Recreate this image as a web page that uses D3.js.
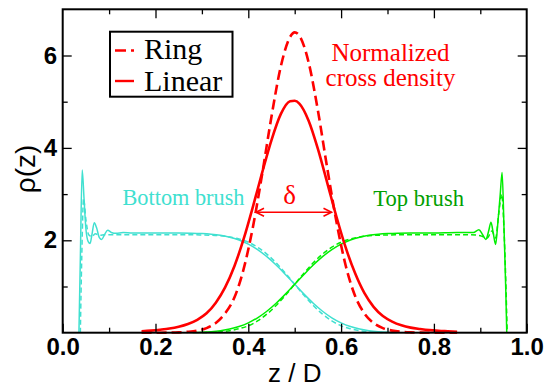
<!DOCTYPE html>
<html><head><meta charset="utf-8">
<script src="https://cdn.jsdelivr.net/npm/d3@7"></script>
<style>
body{margin:0;background:#fff}
svg text{font-family:"Liberation Serif"}
svg text.sans{font-family:"Liberation Sans"}
</style></head>
<body><svg id="c" width="545" height="387"></svg>
<script>
// ---- data ----
const xTicksMajor = [0, 0.2, 0.4, 0.6, 0.8, 1.0];
const xTicksMinor = [0.1, 0.3, 0.5, 0.7, 0.9];
const yTicksMajor = [2, 4, 6];
const yTicksMinor = [1, 3, 5];

const zCross = [0.17,0.19,0.21,0.23,0.25,0.27,0.29,0.31,0.33,0.35,0.37,0.39,0.41,0.43,0.45,0.47,0.49,0.50,0.51,0.53,0.55,0.57,0.59,0.61,0.63,0.65,0.67,0.69,0.71,0.73,0.75,0.77,0.79,0.81,0.83,0.85];
const crossLinear = [0.03,0.045,0.065,0.09,0.13,0.19,0.28,0.42,0.65,0.98,1.44,2.03,2.73,3.47,4.17,4.73,5.01,5.02,4.96,4.59,3.98,3.25,2.51,1.84,1.29,0.86,0.56,0.36,0.24,0.16,0.11,0.08,0.055,0.04,0.03,0.02];
const crossRing = [0,0,0,0.002,0.008,0.02,0.045,0.10,0.21,0.42,0.76,1.38,2.29,3.44,4.68,5.76,6.40,6.50,6.43,5.85,4.81,3.57,2.40,1.45,0.80,0.42,0.21,0.10,0.045,0.02,0.008,0.002,0,0,0,0];

const zBottomLinear = [0.035,0.038,0.042,0.046,0.050,0.055,0.059,0.063,0.068,0.073,0.079,0.084,0.090,0.097,0.105,0.115,0.13,0.15,0.20,0.25,0.30,0.32,0.34,0.36,0.38,0.40,0.42,0.44,0.46,0.48,0.50,0.52,0.54,0.56,0.58,0.60,0.62,0.64,0.66,0.68,0.70,0.72];
const bottomLinear = [0,1.6,3.52,2.9,2.25,1.97,1.93,2.12,2.38,2.27,2.06,2.02,2.12,2.22,2.17,2.15,2.17,2.16,2.16,2.158,2.145,2.131,2.107,2.068,2.006,1.917,1.798,1.645,1.465,1.261,1.048,0.835,0.637,0.465,0.323,0.213,0.133,0.078,0.044,0.023,0.012,0.006];

const zBottomRing = [0.038,0.041,0.045,0.050,0.056,0.063,0.070,0.080,0.09,0.10,0.15,0.20,0.25,0.30,0.32,0.34,0.36,0.38,0.40,0.42,0.44,0.46,0.48,0.50,0.52,0.54,0.56,0.58,0.60,0.62,0.64,0.66,0.68,0.70];
const bottomRing = [0,1.6,2.9,2.45,2.12,2.08,2.14,2.11,2.12,2.12,2.12,2.12,2.12,2.116,2.110,2.098,2.072,2.028,1.959,1.850,1.702,1.512,1.289,1.048,0.808,0.588,0.402,0.256,0.149,0.086,0.044,0.021,0.010,0.004];

const zTopLinear = [0.28,0.30,0.32,0.34,0.36,0.38,0.40,0.42,0.44,0.46,0.48,0.50,0.52,0.54,0.56,0.58,0.60,0.62,0.64,0.66,0.68,0.70,0.75,0.80,0.85,0.87,0.885,0.897,0.905,0.912,0.918,0.923,0.928,0.933,0.938,0.943,0.947,0.951,0.955,0.957];
const topLinear = [0.006,0.012,0.023,0.044,0.078,0.133,0.213,0.323,0.465,0.637,0.835,1.048,1.261,1.465,1.645,1.798,1.917,2.006,2.068,2.107,2.131,2.145,2.158,2.16,2.17,2.17,2.17,2.23,2.12,2.02,2.2,2.39,2.15,1.91,2.4,3.0,3.47,2.3,0.9,0];

const zTopRing = [0.30,0.32,0.34,0.36,0.38,0.40,0.42,0.44,0.46,0.48,0.50,0.52,0.54,0.56,0.58,0.60,0.62,0.64,0.66,0.68,0.70,0.75,0.80,0.85,0.88,0.90,0.915,0.925,0.933,0.94,0.946,0.952,0.958];
const topRing = [0.004,0.010,0.021,0.044,0.086,0.149,0.256,0.402,0.588,0.808,1.048,1.289,1.512,1.702,1.850,1.959,2.028,2.072,2.098,2.110,2.116,2.12,2.12,2.12,2.12,2.1,2.05,2.2,2.05,2.6,3.0,2.0,0];

const legendLabels = ["Ring", "Linear"];

// ---- layout ----
const W = 545, H = 387;
const m = {l: 62.7, r: 18.3, t: 9.3, b: 54.3};
const svg = d3.select("#c");
const x = d3.scaleLinear().domain([0, 1]).range([m.l, W - m.r]);
const y = d3.scaleLinear().domain([0, 7]).range([H - m.b, m.t]);

const RED = "#ff0000", CYAN = "#40e0d0", GREEN = "#00ee00", GREEN_TXT = "#00a000";

const zip = (xs, ys) => xs.map((v, i) => [v, ys[i]]);
const line = d3.line().x(d => x(d[0])).y(d => y(d[1])).curve(d3.curveMonotoneX);

const series = [
  {z: zBottomLinear, v: bottomLinear, c: CYAN, w: 1.5, dash: null},
  {z: zBottomRing, v: bottomRing, c: CYAN, w: 1.5, dash: "5,3"},
  {z: zTopLinear, v: topLinear, c: GREEN, w: 1.5, dash: null},
  {z: zTopRing, v: topRing, c: GREEN, w: 1.5, dash: "5,3"},
  {z: zCross, v: crossLinear, c: RED, w: 2.6, dash: null},
  {z: zCross, v: crossRing, c: RED, w: 2.6, dash: "10,5"}
];
svg.append("g").selectAll("path").data(series).join("path")
  .attr("d", s => line(zip(s.z, s.v)))
  .attr("fill", "none").attr("stroke", s => s.c)
  .attr("stroke-width", s => s.w)
  .attr("stroke-dasharray", s => s.dash);

// ---- axes ----
function styleAxis(g) {
  g.attr("font-family", null).attr("font-size", null);
  g.select(".domain").remove();
  g.selectAll(".tick line").attr("stroke", "#000").attr("stroke-width", 1.3);
  g.selectAll(".tick text").attr("class", "sans").style("font-weight", "bold")
   .style("font-size", "24px").attr("fill", "#000");
}
const by = H - m.b, ty = m.t, lx = m.l, rx = W - m.r;
svg.append("g").attr("transform", `translate(0,${by})`)
  .call(d3.axisBottom(x).tickValues(xTicksMajor).tickSize(-9).tickPadding(5.5).tickFormat(d3.format(".1f"))).call(styleAxis);
svg.append("g").attr("transform", `translate(0,${by})`)
  .call(d3.axisBottom(x).tickValues(xTicksMinor).tickSize(-5).tickFormat("")).call(styleAxis);
svg.append("g").attr("transform", `translate(0,${ty})`)
  .call(d3.axisTop(x).tickValues(xTicksMajor.slice(1, -1)).tickSize(-9).tickFormat("")).call(styleAxis);
svg.append("g").attr("transform", `translate(0,${ty})`)
  .call(d3.axisTop(x).tickValues(xTicksMinor).tickSize(-5).tickFormat("")).call(styleAxis);
svg.append("g").attr("transform", `translate(${lx},0)`)
  .call(d3.axisLeft(y).tickValues(yTicksMajor).tickSize(-9).tickPadding(5.5).tickFormat(d3.format("d"))).call(styleAxis);
svg.append("g").attr("transform", `translate(${lx},0)`)
  .call(d3.axisLeft(y).tickValues(yTicksMinor).tickSize(-5).tickFormat("")).call(styleAxis);
svg.append("g").attr("transform", `translate(${rx},0)`)
  .call(d3.axisRight(y).tickValues(yTicksMajor).tickSize(-9).tickFormat("")).call(styleAxis);
svg.append("g").attr("transform", `translate(${rx},0)`)
  .call(d3.axisRight(y).tickValues(yTicksMinor).tickSize(-5).tickFormat("")).call(styleAxis);

// frame
svg.append("rect").attr("x", lx).attr("y", ty).attr("width", rx - lx).attr("height", by - ty)
  .attr("fill", "none").attr("stroke", "#000").attr("stroke-width", 2);

// axis titles
svg.append("text").attr("class", "sans").attr("x", (lx + rx) / 2).attr("y", 382).attr("text-anchor", "middle")
  .style("font-size", "26px").text("z / D");
svg.append("text").attr("class", "sans").attr("transform", `translate(34.5,${(ty + by) / 2 - 2}) rotate(-90)`)
  .attr("text-anchor", "middle").style("font-size", "28px").text("ρ(z)");

// ---- annotations ----
function note(txt, px, py, size, col, anchor) {
  svg.append("text").attr("x", px).attr("y", py)
    .attr("text-anchor", anchor || "start").style("font-size", size + "px")
    .attr("fill", col).text(txt);
}
note("Normalized", 390.5, 61, 25, RED, "middle");
note("cross density", 390.5, 86, 25, RED, "middle");
note("Bottom brush", 122.5, 205, 22.3, CYAN);
note("Top brush", 373.3, 206, 22.6, GREEN_TXT);
note("δ", 289.7, 204, 27, RED, "middle");

// delta arrow
const ax0 = 256, ax1 = 331.5, ay = 212.3;
const ag = svg.append("g").attr("stroke", RED).attr("stroke-width", 1.6).attr("fill", "none");
ag.append("line").attr("x1", ax0).attr("x2", ax1).attr("y1", ay).attr("y2", ay);
ag.append("path").attr("d", `M${ax0 + 8},${ay - 4}L${ax0},${ay}L${ax0 + 8},${ay + 4}`);
ag.append("path").attr("d", `M${ax1 - 8},${ay - 4}L${ax1},${ay}L${ax1 - 8},${ay + 4}`);

// ---- legend ----
const lg = svg.append("g");
lg.append("rect").attr("x", 110).attr("y", 31.7).attr("width", 122.5).attr("height", 65)
  .attr("fill", "#fff").attr("stroke", "#000").attr("stroke-width", 2);
const legDash = ["11,5", null];
legendLabels.forEach((lab, i) => {
  const yy = [50.5, 81][i], yb = [59, 91][i];
  lg.append("line").attr("x1", 115).attr("x2", 134).attr("y1", yy).attr("y2", yy)
    .attr("stroke", RED).attr("stroke-width", 2.4).attr("stroke-dasharray", legDash[i]);
  lg.append("text").attr("x", 144).attr("y", yb).style("font-size", "30px")
    .attr("fill", "#000").text(lab);
});
</script>
</body></html>
